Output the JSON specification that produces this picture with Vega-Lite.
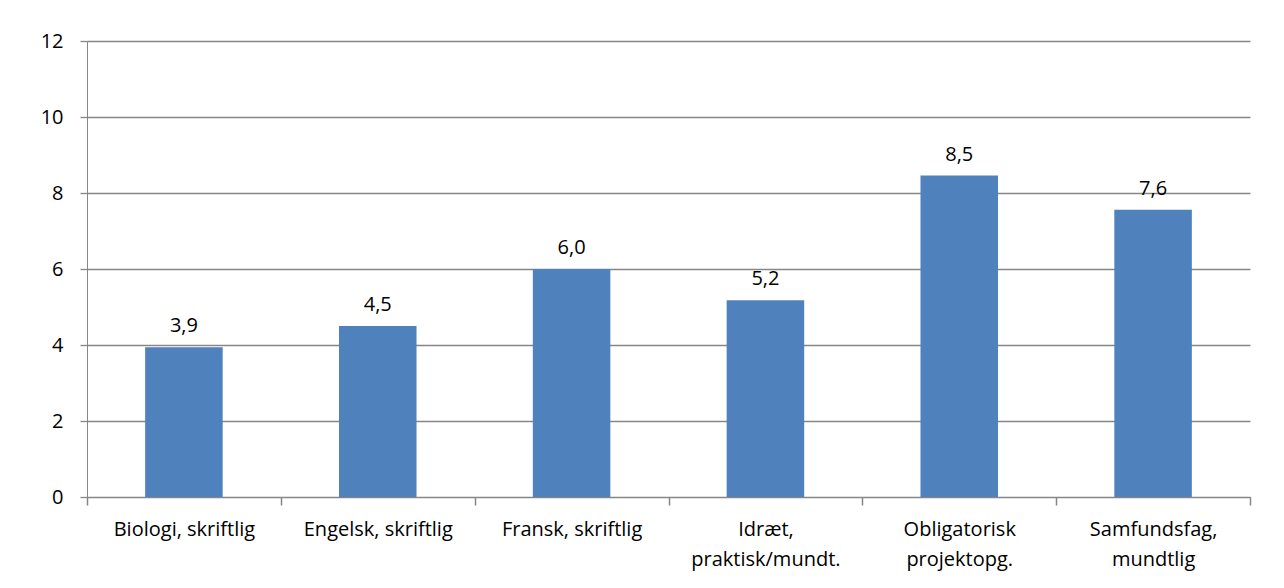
{
  "$schema": "https://vega.github.io/schema/vega-lite/v6.json",
  "autosize": "none",
  "width": 1163,
  "height": 456,
  "padding": {"left": 87, "top": 41, "right": 34, "bottom": 91},
  "background": "white",
  "config": {
    "view": {"stroke": null},
    "font": "Open Sans",
    "locale": {"number": {"decimal": ",", "thousands": ".", "grouping": [3], "currency": ["", " kr."]}}
  },
  "data": {
    "values": [
      {"fag": "Biologi, skriftlig", "karakter": 3.94},
      {"fag": "Engelsk, skriftlig", "karakter": 4.5},
      {"fag": "Fransk, skriftlig", "karakter": 6.0},
      {"fag": "Idræt, praktisk/mundt.", "karakter": 5.18},
      {"fag": "Obligatorisk projektopg.", "karakter": 8.46},
      {"fag": "Samfundsfag, mundtlig", "karakter": 7.56}
    ]
  },
  "encoding": {
    "x": {
      "field": "fag", "type": "nominal", "sort": null,
      "scale": {"paddingInner": 0, "paddingOuter": 0},
      "axis": {
        "title": null, "labelAngle": 0, "tickBand": "extent", "tickExtra": true, "ticks": true,
        "domainColor": "#868686", "tickColor": "#868686", "tickSize": 8, "tickWidth": 1.5,
        "labelFont": "Open Sans", "labelFontSize": 20, "labelColor": "#000000",
        "labelPadding": 14, "labelLineHeight": 30, "labelBaseline": "top",
        "labelExpr": "datum.value == 'Idræt, praktisk/mundt.' ? ['Idræt,', 'praktisk/mundt.'] : datum.value == 'Obligatorisk projektopg.' ? ['Obligatorisk', 'projektopg.'] : datum.value == 'Samfundsfag, mundtlig' ? ['Samfundsfag,', 'mundtlig'] : datum.value"
      }
    },
    "y": {
      "field": "karakter", "type": "quantitative",
      "scale": {"domain": [0, 12], "nice": false},
      "axis": {
        "title": null, "values": [0, 2, 4, 6, 8, 10, 12],
        "grid": true, "gridColor": "#868686", "gridWidth": 1.3,
        "domainColor": "#868686", "tickColor": "#868686", "tickSize": 7, "tickWidth": 1.3,
        "labelFont": "Open Sans", "labelFontSize": 20, "labelColor": "#000000",
        "labelPadding": 17
      }
    }
  },
  "layer": [
    {"mark": {"type": "bar", "color": "#4f81bd", "width": {"band": 0.4}}},
    {
      "mark": {"type": "text", "font": "Open Sans", "fontSize": 20, "color": "#000000", "baseline": "bottom", "dy": -11},
      "encoding": {"text": {"field": "karakter", "type": "quantitative", "format": ".1f"}}
    }
  ]
}
